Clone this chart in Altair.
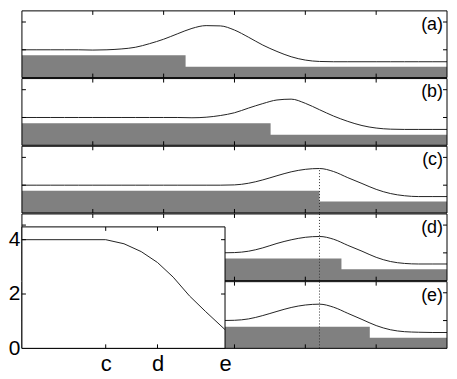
import altair as alt
import pandas as pd

FONT = "Liberation Sans"
GRAY = "#808080"
LINE = "#222222"

# ---- data ----
x_grid = [0.0, 0.2, 0.4, 0.6, 0.8, 1.0, 1.2, 1.4, 1.6, 1.8, 2.0, 2.2, 2.4, 2.6, 2.8, 3.0,
          3.2, 3.4, 3.6, 3.8, 4.0, 4.2, 4.4, 4.6, 4.8, 5.0, 5.2, 5.4, 5.6, 5.8, 6.0]

line_a = [1.0, 1.0, 1.0, 1.0, 1.0, 0.99, 1.0, 1.03, 1.09, 1.22, 1.38, 1.58, 1.77, 1.87, 1.86, 1.71,
          1.45, 1.17, 0.94, 0.75, 0.63, 0.58, 0.57, 0.57, 0.57, 0.57, 0.57, 0.57, 0.57, 0.57, 0.57]
line_b = [1.0, 1.0, 1.0, 1.0, 1.0, 1.0, 1.0, 1.0, 1.0, 1.0, 1.0, 1.0, 0.99, 1.01, 1.07, 1.17,
          1.34, 1.50, 1.63, 1.66, 1.51, 1.28, 1.05, 0.86, 0.71, 0.62, 0.58, 0.57, 0.57, 0.57, 0.57]
line_c = [1.0, 1.0, 1.0, 1.0, 1.0, 1.0, 1.0, 1.0, 1.0, 1.0, 1.0, 1.0, 1.0, 1.0, 1.0, 1.01,
          1.07, 1.19, 1.34, 1.48, 1.57, 1.60, 1.49, 1.27, 1.06, 0.85, 0.70, 0.62, 0.59, 0.59, 0.59]
line_d = [1.0, 1.0, 1.0, 1.0, 1.0, 1.0, 1.0, 1.0, 1.0, 1.0, 1.0, 1.0, 1.0, 1.0, 1.0, 1.01,
          1.06, 1.18, 1.34, 1.47, 1.56, 1.59, 1.49, 1.27, 1.06, 0.84, 0.69, 0.62, 0.60, 0.60, 0.60]
line_e = [1.0, 1.0, 1.0, 1.0, 1.0, 1.0, 1.0, 1.0, 1.0, 1.0, 1.0, 1.0, 1.0, 1.0, 1.0, 1.01,
          1.06, 1.18, 1.33, 1.47, 1.56, 1.59, 1.48, 1.26, 1.04, 0.82, 0.67, 0.60, 0.58, 0.57, 0.57]

panel_names = ["(a)", "(b)", "(c)", "(d)", "(e)"]
gray_left = [0.80, 0.79, 0.80, 0.80, 0.78]
gray_right = [0.39, 0.38, 0.41, 0.41, 0.38]
gray_step = [2.31, 3.51, 4.20, 4.51, 4.91]

marker_x = 4.2          # dotted vertical line position
marker_top_c = 1.60     # dotted line ends at the peak in panel (c)

x_ticks = [1, 2, 3, 4, 5]
y_ticks = [1, 2]

inset_x = [0.0, 1.65, 2.01, 2.35, 2.67, 2.98, 3.30, 3.62, 4.0]
inset_y = [4.0, 4.0, 3.85, 3.56, 3.16, 2.62, 1.93, 1.35, 0.69]
inset_tick_pos = [1.65, 2.67, 4.0]
inset_tick_lab = ["c", "d", "e"]
inset_y_ticks = [0, 2, 4]

# ---- layout ----
W, H = 427, 67
IW, IH = 204, 122
XD = [0, 6]
YD = [0, 2.4]


def xsc():
    return alt.Scale(domain=XD, nice=False, zero=False)


def ysc():
    return alt.Scale(domain=YD, nice=False, zero=False)


one = pd.DataFrame({"k": [0]})


def frame():
    return alt.Chart(one).mark_rect(fillOpacity=0, stroke="black", strokeWidth=1).encode(
        x=alt.value(0), x2=alt.value(W), y=alt.value(0), y2=alt.value(H))


def tick_layers(xsf, ysf, xt, yt, w, y0, y1):
    dx = pd.DataFrame({"t": xt})
    dy = pd.DataFrame({"t": yt})
    L = 4
    return [
        alt.Chart(dx).mark_rule(color="black", strokeWidth=1).encode(
            x=alt.X("t:Q", scale=xsf(), axis=None), y=alt.value(y0), y2=alt.value(y0 + L)),
        alt.Chart(dx).mark_rule(color="black", strokeWidth=1).encode(
            x=alt.X("t:Q", scale=xsf(), axis=None), y=alt.value(y1 - L), y2=alt.value(y1)),
        alt.Chart(dy).mark_rule(color="black", strokeWidth=1).encode(
            y=alt.Y("t:Q", scale=ysf(), axis=None), x=alt.value(0), x2=alt.value(L)),
        alt.Chart(dy).mark_rule(color="black", strokeWidth=1).encode(
            y=alt.Y("t:Q", scale=ysf(), axis=None), x=alt.value(w - L), x2=alt.value(w)),
    ]


def panel(i, yvals):
    df_line = pd.DataFrame({"x": x_grid, "y": yvals})
    df_area = pd.DataFrame({"x": [XD[0], gray_step[i], XD[1]],
                            "y": [gray_left[i], gray_right[i], gray_right[i]]})
    layers = []
    layers.append(alt.Chart(df_area).mark_area(interpolate="step-after", color=GRAY, opacity=1).encode(
        x=alt.X("x:Q", scale=xsc(), axis=None), y=alt.Y("y:Q", scale=ysc(), axis=None)))
    layers.append(alt.Chart(df_line).mark_line(interpolate="monotone", color=LINE, strokeWidth=1).encode(
        x=alt.X("x:Q", scale=xsc(), axis=None), y=alt.Y("y:Q", scale=ysc(), axis=None)))
    if i >= 2:
        top = marker_top_c if i == 2 else YD[1]
        df_r = pd.DataFrame({"x": [marker_x], "y": [0.0], "y2": [top]})
        layers.append(alt.Chart(df_r).mark_rule(color="#333333", strokeWidth=1, strokeDash=[1, 2]).encode(
            x=alt.X("x:Q", scale=xsc(), axis=None), y=alt.Y("y:Q", scale=ysc(), axis=None), y2="y2:Q"))
    layers += tick_layers(xsc, ysc, x_ticks, y_ticks, W, 0, H)
    layers.append(frame())
    layers.append(alt.Chart(pd.DataFrame({"l": [panel_names[i]]})).mark_text(
        align="right", baseline="alphabetic", fontSize=18, font=FONT, color="black").encode(
        text="l:N", x=alt.value(W - 4), y=alt.value(19)))

    if i == 4:
        def ixs():
            return alt.Scale(domain=[0, 4], range=[0, IW], nice=False, zero=False)

        def iys():
            return alt.Scale(domain=[0, 4.47], range=[H, H - IH], nice=False, zero=False)

        layers.append(alt.Chart(one).mark_rect(fill="white", stroke="black", strokeWidth=1).encode(
            x=alt.value(0), x2=alt.value(IW), y=alt.value(H - IH), y2=alt.value(H)))
        expr = " : ".join(f"datum.value == {p} ? '{l}'" for p, l in zip(inset_tick_pos[:-1], inset_tick_lab[:-1]))
        expr = expr + f" : '{inset_tick_lab[-1]}'"
        df_in = pd.DataFrame({"x": inset_x, "y": inset_y})
        layers.append(alt.Chart(df_in).mark_line(color=LINE, strokeWidth=1).encode(
            x=alt.X("x:Q", scale=ixs(), title=None, axis=alt.Axis(
                orient="bottom", values=inset_tick_pos, labelExpr=expr, tickSize=0, domain=False,
                grid=False, labelFontSize=22, labelFont=FONT, labelColor="black", labelPadding=5,
                labelFlush=False, labelOverlap=False)),
            y=alt.Y("y:Q", scale=iys(), title=None, axis=alt.Axis(
                orient="left", values=inset_y_ticks, tickSize=0, domain=False, grid=False,
                labelFontSize=21, labelFont=FONT, labelColor="black", labelPadding=2,
                labelFlush=False, labelOverlap=False))))
        layers += tick_layers(ixs, iys, inset_tick_pos[:-1], inset_y_ticks[1:], IW, H - IH, H)

    return alt.layer(*layers).resolve_scale(x="independent", y="independent").properties(width=W, height=H)


panels = [panel(i, v) for i, v in enumerate([line_a, line_b, line_c, line_d, line_e])]

chart = alt.vconcat(*panels, spacing=1, bounds="flush").properties(
    padding={"left": 0, "top": 1, "right": 0, "bottom": 0},
    background="white",
).configure_view(strokeWidth=0)

chart.save("out.html", embed_options={"renderer": "svg", "actions": False})
